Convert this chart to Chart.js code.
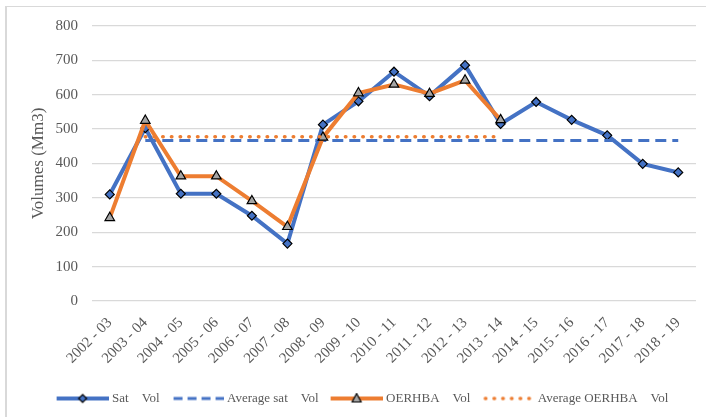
<!DOCTYPE html>
<html>
<head>
<meta charset="utf-8">
<script src="https://cdn.jsdelivr.net/npm/chart.js@4/dist/chart.umd.min.js"></script>
<style>
  html, body { margin: 0; padding: 0; background: #fff; }
  #wrap { position: relative; width: 706px; height: 417px; overflow: hidden; }
  #frame { position: absolute; left: 5px; top: 6px; width: 800px; height: 500px;
           border-left: 2px solid #d9d9d9; border-top: 1px solid #d9d9d9; }
  canvas { position: absolute; left: 0; top: 0; }
</style>
</head>
<body>
<div id="wrap">
  <div id="frame"></div>
  <canvas id="volChart" width="706" height="417"></canvas>
</div>
<script>
// values
const categories = ['2002 - 03', '2003 - 04', '2004 - 05', '2005 - 06', '2006 - 07', '2007 - 08',
    '2008 - 09', '2009 - 10', '2010 - 11', '2011 - 12', '2012 - 13', '2013 - 14',
    '2014 - 15', '2015 - 16', '2016 - 17', '2017 - 18', '2018 - 19'];
const satVol = [310, 503, 312, 312, 248, 167, 513, 581, 667, 596, 686, 515, 579, 527, 482, 399, 374];
const avgSatVol = [null, 467, 467, 467, 467, 467, 467, 467, 467, 467, 467, 467, 467, 467, 467, 467, 467];
const oerhbaVol = [242, 525, 363, 363, 291, 216, 476, 605, 630, 603, 642, 527, null, null, null, null, null];
const avgOerhbaVol = [null, 478, 478, 478, 478, 478, 478, 478, 478, 478, 478, 478, null, null, null, null, null];
const yTicks = [0, 100, 200, 300, 400, 500, 600, 700, 800];

const BLUE = '#4472C4';
const ORANGE = '#ED7D31';
const GREY = '#595959';
const SERIF = "'Liberation Serif', 'DejaVu Serif', serif";

// little legend samples: line + marker, like Excel
function legendSample(kind) {
    const c = document.createElement('canvas');
    c.width = 54;
    c.height = 12;
    const g = c.getContext('2d');
    const y = 6;
    g.lineCap = 'butt';
    if (kind === 'sat' || kind === 'oer') {
        g.strokeStyle = kind === 'sat' ? BLUE : ORANGE;
        g.lineWidth = 4;
        g.beginPath(); g.moveTo(2, y); g.lineTo(54, y); g.stroke();
        g.lineWidth = 1.2;
        g.strokeStyle = '#000';
        g.beginPath();
        if (kind === 'sat') {
            g.fillStyle = BLUE;
            g.moveTo(28, y - 4); g.lineTo(32, y); g.lineTo(28, y + 4); g.lineTo(24, y);
        } else {
            g.fillStyle = '#a5a5a5';
            g.moveTo(28, y - 5); g.lineTo(32.5, y + 3.5); g.lineTo(23.5, y + 3.5);
        }
        g.closePath(); g.fill(); g.stroke();
    } else if (kind === 'avgSat') {
        g.strokeStyle = BLUE;
        g.lineWidth = 3;
        g.setLineDash([9, 5]);
        g.beginPath(); g.moveTo(4, y); g.lineTo(54, y); g.stroke();
    } else {
        g.strokeStyle = ORANGE;
        g.lineWidth = 3.5;
        g.lineCap = 'round';
        g.setLineDash([0.5, 8.2]);
        g.beginPath(); g.moveTo(5, y); g.lineTo(52, y); g.stroke();
    }
    return c;
}
const samples = [legendSample('sat'), legendSample('avgSat'), legendSample('oer'), legendSample('avgOer')];

// Excel centres the legend a bit to the right of the canvas centre
const legendShift = {
    id: 'legendShift',
    afterLayout(chart) {
        chart.legend.left += 11;
        chart.legend.right += 11;
    }
};

const chartData = {
    labels: categories,
    datasets: [{
        label: 'Sat    Vol',
        data: satVol,
        borderColor: BLUE,
        backgroundColor: BLUE,
        borderWidth: 4,
        pointStyle: 'rectRot',
        pointRadius: 4.5,
        pointBackgroundColor: BLUE,
        pointBorderColor: '#000',
        pointBorderWidth: 1.2,
        order: 4
    }, {
        label: 'Average sat    Vol',
        data: avgSatVol,
        borderColor: BLUE,
        borderWidth: 3,
        borderDash: [11, 6],
        pointRadius: 0,
        order: 3
    }, {
        label: 'OERHBA    Vol',
        data: oerhbaVol,
        borderColor: ORANGE,
        backgroundColor: ORANGE,
        borderWidth: 4,
        pointStyle: 'triangle',
        pointRadius: 5.5,
        pointBackgroundColor: '#a5a5a5',
        pointBorderColor: '#000',
        pointBorderWidth: 1.2,
        order: 2
    }, {
        label: 'Average OERHBA    Vol',
        data: avgOerhbaVol,
        borderColor: ORANGE,
        borderWidth: 3.5,
        borderDash: [0.5, 8.2],
        borderCapStyle: 'round',
        pointRadius: 0,
        order: 1
    }]
};

const config = {
    type: 'line',
    data: chartData,
    plugins: [legendShift],
    options: {
        responsive: false,
        animation: false,
        devicePixelRatio: 1,
        elements: { line: { tension: 0 } },
        layout: { padding: { left: 8, right: 10, top: 26, bottom: 2 } },
        scales: {
            x: {
                offset: true,
                grid: { display: false },
                border: { display: false },
                ticks: {
                    color: GREY,
                    font: { family: SERIF, size: 15 },
                    minRotation: 45,
                    maxRotation: 45,
                    padding: 5,
                    autoSkip: false
                },
                afterFit: function(scale) { scale.height = 78; }
            },
            y: {
                min: 0,
                max: 800,
                afterBuildTicks: function(scale) {
                    scale.ticks = yTicks.map(v => ({ value: v }));
                },
                grid: { color: '#d9d9d9', lineWidth: 1.3, drawTicks: false },
                border: { display: false },
                ticks: {
                    color: GREY,
                    font: { family: SERIF, size: 15 },
                    padding: 14
                },
                title: {
                    display: true,
                    text: 'Volumes (Mm3)',
                    color: GREY,
                    font: { family: SERIF, size: 17 },
                    padding: { top: 20, bottom: 0 }
                },
                afterFit: function(scale) { scale.width = 84; }
            }
        },
        plugins: {
            tooltip: { enabled: false },
            legend: {
                position: 'bottom',
                labels: {
                    usePointStyle: true,
                    pointStyleWidth: 48,
                    padding: 13,
                    color: GREY,
                    font: { family: SERIF, size: 13 },
                    sort: (a, b) => a.datasetIndex - b.datasetIndex,
                    generateLabels: function(chart) {
                        const items = Chart.defaults.plugins.legend.labels.generateLabels(chart);
                        items.forEach(it => { it.pointStyle = samples[it.datasetIndex]; });
                        return items;
                    }
                }
            }
        }
    }
};

new Chart(document.getElementById('volChart'), config);
</script>
</body>
</html>
